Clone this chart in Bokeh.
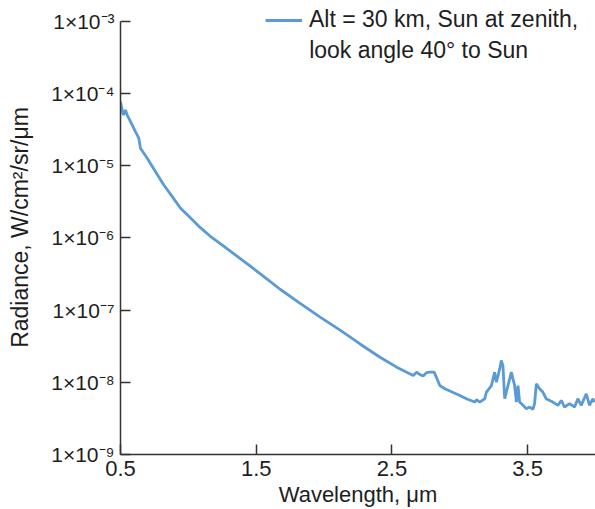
from bokeh.plotting import figure
from bokeh.models import Range1d, FixedTicker, Label, Legend, LegendItem, CustomJSTickFormatter
from bokeh.embed import file_html
from bokeh.resources import INLINE

# ---- data ----
wavelength = [0.500, 0.520, 0.537, 0.549, 0.574, 0.610, 0.635, 0.647, 0.696, 0.757,
              0.818, 0.880, 0.941, 1.015, 1.088, 1.162, 1.260, 1.358, 1.456, 1.554,
              1.676, 1.824, 1.971, 2.118, 2.265, 2.412, 2.535, 2.657, 2.682, 2.706,
              2.730, 2.755, 2.779, 2.811, 2.853, 2.890, 3.000, 3.049, 3.110, 3.123,
              3.147, 3.184, 3.196, 3.233, 3.257, 3.270, 3.294, 3.306, 3.318, 3.331,
              3.355, 3.380, 3.404, 3.417, 3.429, 3.441, 3.466, 3.490, 3.515, 3.539,
              3.551, 3.564, 3.588, 3.612, 3.637, 3.662, 3.686, 3.723, 3.748, 3.772,
              3.809, 3.846, 3.870, 3.895, 3.932, 3.956, 3.980, 3.993]
radiance = [7.65e-5, 5.0e-5, 5.87e-5, 5.0e-5, 4.05e-5, 2.95e-5, 2.39e-5, 1.74e-5, 1.27e-5, 8.3e-6,
            5.43e-6, 3.75e-6, 2.59e-6, 1.89e-6, 1.38e-6, 1.05e-6, 7.67e-7, 5.58e-7, 4.06e-7, 2.93e-7,
            1.94e-7, 1.24e-7, 7.98e-8, 5.28e-8, 3.39e-8, 2.22e-8, 1.62e-8, 1.24e-8, 1.38e-8, 1.28e-8,
            1.22e-8, 1.36e-8, 1.38e-8, 1.38e-8, 9.0e-9, 8.13e-9, 6.57e-9, 5.91e-9, 5.32e-9, 5.73e-9,
            5.32e-9, 5.91e-9, 7.31e-9, 9.0e-9, 1.38e-8, 1.0e-8, 1.53e-8, 2.0e-8, 1.70e-8, 5.91e-9,
            9.0e-9, 1.38e-8, 9.0e-9, 5.32e-9, 9.0e-9, 5.32e-9, 4.79e-9, 4.31e-9, 4.54e-9, 4.21e-9,
            5.05e-9, 9.5e-9, 8.13e-9, 7.31e-9, 5.91e-9, 5.6e-9, 5.32e-9, 4.79e-9, 5.6e-9, 4.54e-9,
            5.05e-9, 4.54e-9, 5.91e-9, 4.79e-9, 6.93e-9, 4.79e-9, 5.91e-9, 5.32e-9]

x_ticks = [0.5, 1.5, 2.5, 3.5]
y_tick_exponents = [-3, -4, -5, -6, -7, -8, -9]
legend_line1 = "Alt = 30 km, Sun at zenith,"
legend_line2 = "look angle 40° to Sun"
x_title = "Wavelength, μm"
y_title = "Radiance, W/cm²/sr/μm"

FONT = "Liberation Sans"
TXT = "#1e1e1e"
AX = "#333333"
BLUE = "#5B9BD5"

y_lo = 10.0 ** min(y_tick_exponents)
y_hi = 10.0 ** max(y_tick_exponents)
# small headroom above the top decade so the legend fits inside the frame
y_top = 10.0 ** (max(y_tick_exponents) + 0.285)

p = figure(width=595, height=509,
           x_range=Range1d(x_ticks[0], 4.0), y_range=Range1d(y_lo, y_top),
           y_axis_type="log", output_backend="svg", toolbar_location=None,
           min_border_left=120, min_border_right=0, min_border_top=0, min_border_bottom=53)
p.outline_line_color = None
p.xgrid.visible = False
p.ygrid.visible = False
p.background_fill_color = "white"
p.border_fill_color = "white"

r = p.line(wavelength, radiance, line_color=BLUE, line_width=2.8)

# x axis
xa = p.xaxis[0]
xa.ticker = FixedTicker(ticks=x_ticks)
xa.major_tick_in = 10
xa.major_tick_out = 0
xa.minor_tick_line_color = None
xa.axis_line_color = AX
xa.axis_line_width = 1.5
xa.major_tick_line_color = AX
xa.major_tick_line_width = 1.5
xa.major_label_text_font = FONT
xa.major_label_text_font_size = "22px"
xa.major_label_text_color = TXT
xa.major_label_standoff = 6
xa.axis_label = x_title
xa.axis_label_text_font = FONT
xa.axis_label_text_font_size = "22px"
xa.axis_label_text_font_style = "normal"
xa.axis_label_text_color = TXT
xa.axis_label_standoff = 3

# y axis
ya = p.yaxis[0]
ya.bounds = (y_lo, y_hi)
ya.ticker = FixedTicker(ticks=[10.0 ** e for e in y_tick_exponents])
ya.formatter = CustomJSTickFormatter(code="""
    const sup = {'0':'\u2070','1':'\u00b9','2':'\u00b2','3':'\u00b3','4':'\u2074',
                 '5':'\u2075','6':'\u2076','7':'\u2077','8':'\u2078','9':'\u2079','-':'\u207b'};
    const e = Math.round(Math.log10(tick)).toString();
    let s = '';
    for (const c of e) { s += sup[c]; }
    return '1\u00d710' + s;
""")
ya.major_tick_in = 10
ya.major_tick_out = 0
ya.minor_tick_line_color = None
ya.axis_line_color = AX
ya.axis_line_width = 1.5
ya.major_tick_line_color = AX
ya.major_tick_line_width = 1.5
ya.major_label_text_font = FONT
ya.major_label_text_font_size = "21px"
ya.major_label_text_color = TXT
ya.major_label_standoff = 6
ya.axis_label = y_title
ya.axis_label_text_font = FONT
ya.axis_label_text_font_size = "23px"
ya.axis_label_text_font_style = "normal"
ya.axis_label_text_color = TXT
ya.axis_label_standoff = 15

legend = Legend(items=[LegendItem(label=legend_line1, renderers=[r])],
                location=(145, 421), orientation="vertical",
                label_text_font=FONT, label_text_font_size="23px", label_text_color=TXT,
                glyph_width=37, glyph_height=20, label_standoff=7,
                padding=0, margin=0, spacing=0,
                border_line_color=None, background_fill_alpha=0)
p.add_layout(legend)

# second legend line, placed just under the first one
p.add_layout(Label(x=1.89, y=4.0e-4, text=legend_line2,
                   text_align="left", text_baseline="alphabetic",
                   text_font=FONT, text_font_size="23px", text_color=TXT))

open("out.html", "w").write(file_html(p, INLINE))
